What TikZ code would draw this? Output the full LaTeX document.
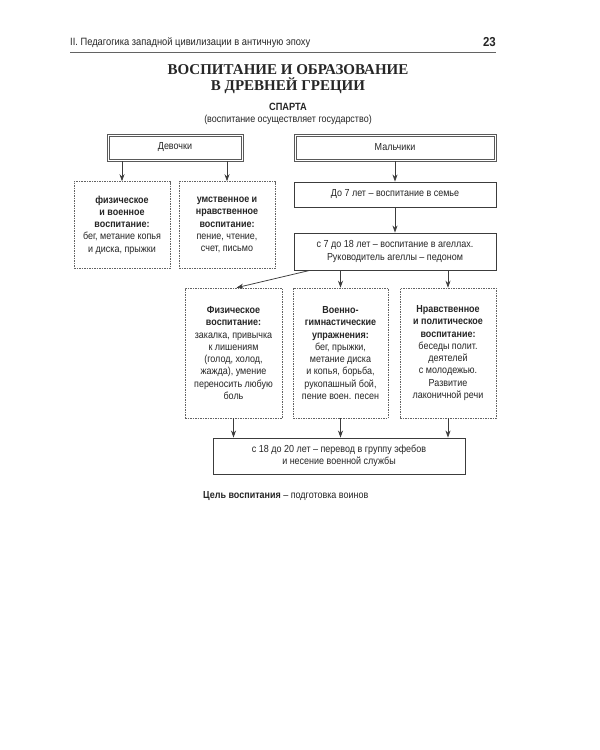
\documentclass[tikz,border=0pt]{standalone}
\usepackage{fontspec}
\setmainfont{Liberation Sans}[FakeStretch=0.88]
\newfontfamily\titlefont{Liberation Serif}
\usetikzlibrary{arrows.meta}
\definecolor{ink}{HTML}{262626}
\definecolor{lin}{HTML}{3C3C3C}
\tikzset{
  basefont/.style={font=\fontsize{10.2}{12.3}\selectfont},
  solidbox/.style={draw=lin, line width=0.9pt, inner sep=0pt, align=center, text=ink, basefont},
  dblbox/.style={draw=lin!85, line width=0.5pt, inner sep=0pt, align=center, text=ink, basefont},
  innerline/.style={draw=lin!85, line width=0.5pt},
  dashbox/.style={draw=lin!80, line width=0.6pt, dash pattern=on 1.5pt off 1pt, inner sep=0pt, align=center, text=ink, basefont},
  arr/.style={draw=lin, line width=0.75pt, -{Stealth[length=7pt,width=5pt]}},
  txt/.style={inner sep=0pt, text=ink}
}
\begin{document}
\begin{tikzpicture}[x=1pt,y=-1pt]
\useasboundingbox[fill=white] (0,0) rectangle (600,750);
% header
\node[txt, anchor=west, font=\fontsize{10.6}{12}\selectfont] (hdr) at (70,43) {II. Педагогика западной цивилизации в античную эпоху};
\node[txt, anchor=east, font=\fontsize{13}{14}\selectfont\bfseries] (pg) at (496,42) {23};
\coordinate (rl) at (70,52);
\coordinate (rr) at (496,52);
\draw[lin!80, line width=1pt] (rl) -- (rr);
% title
\node[txt, font=\titlefont\fontsize{15}{16}\selectfont\bfseries] (t1) at (288,69.5) {ВОСПИТАНИЕ И ОБРАЗОВАНИЕ};
\node[txt, font=\titlefont\fontsize{15}{16}\selectfont\bfseries] (t2) at (288,86) {В ДРЕВНЕЙ ГРЕЦИИ};
\node[txt, font=\fontsize{10.5}{12}\selectfont\bfseries] (sp) at (288,107) {СПАРТА};
\node[txt, font=\fontsize{10.2}{12}\selectfont] (sp2) at (288,120) {(воспитание осуществляет государство)};
% boxes
\node[dblbox, minimum width=136pt, minimum height=27pt] (dev) at (175,147.5) {Девочки};
\draw[innerline] ([xshift=2.2pt,yshift=2.2pt]dev.south west) rectangle ([xshift=-2.2pt,yshift=-2.2pt]dev.north east);
\node[dblbox, minimum width=202pt, minimum height=27pt] (mal) at (395,147.5) {Мальчики};
\draw[innerline] ([xshift=2.2pt,yshift=2.2pt]mal.south west) rectangle ([xshift=-2.2pt,yshift=-2.2pt]mal.north east);
\node[dashbox, minimum width=96pt, minimum height=87pt] (d1) at (122,225)
  {\textbf{физическое}\\\textbf{и военное}\\\textbf{воспитание:}\\бег, метание копья\\и диска, прыжки};
\node[dashbox, minimum width=96pt, minimum height=87pt] (d2) at (227,225)
  {\textbf{умственное и}\\\textbf{нравственное}\\\textbf{воспитание:}\\пение, чтение,\\счет, письмо};
\node[solidbox, minimum width=202pt, minimum height=25pt] (do7) at (395,194.5) {До 7 лет – воспитание в семье};
\node[solidbox, minimum width=202pt, minimum height=37pt] (s7) at (395,251.5)
  {с 7 до 18 лет – воспитание в агеллах.\\Руководитель агеллы – педоном};
\node[dashbox, minimum width=97pt, minimum height=130pt] (fa) at (233.5,353)
  {\textbf{Физическое}\\\textbf{воспитание:}\\закалка, привычка\\к лишениям\\(голод, холод,\\жажда), умение\\переносить любую\\боль};
\node[dashbox, minimum width=95pt, minimum height=130pt] (fb) at (340.5,353)
  {\textbf{Военно-}\\\textbf{гимнастические}\\\textbf{упражнения:}\\бег, прыжки,\\метание диска\\и копья, борьба,\\рукопашный бой,\\пение воен. песен};
\node[dashbox, minimum width=96pt, minimum height=130pt] (fc) at (448,353)
  {\textbf{Нравственное}\\\textbf{и политическое}\\\textbf{воспитание:}\\беседы полит.\\деятелей\\с молодежью.\\Развитие\\лаконичной речи};
\node[solidbox, minimum width=252pt, minimum height=36pt] (fin) at (339,456)
  {с 18 до 20 лет – перевод в группу эфебов\\и несение военной службы};
\node[txt, anchor=west, font=\fontsize{10.2}{12}\selectfont] (goal) at (203,496)
  {\textbf{Цель воспитания} – подготовка воинов};
% arrows
\draw[arr] (dev.south -| d1.north) -- (d1.north);
\draw[arr] (dev.south -| d2.north) -- (d2.north);
\draw[arr] (mal.south) -- (do7.north);
\draw[arr] (do7.south) -- (s7.north);
\draw[arr] ([xshift=16pt]s7.south west) -- ([xshift=3pt]fa.north);
\draw[arr] (s7.south -| fb.north) -- (fb.north);
\draw[arr] (s7.south -| fc.north) -- (fc.north);
\draw[arr] (fa.south) -- (fa.south |- fin.north);
\draw[arr] (fb.south) -- (fb.south |- fin.north);
\draw[arr] (fc.south) -- (fc.south |- fin.north);
\end{tikzpicture}
\end{document}
